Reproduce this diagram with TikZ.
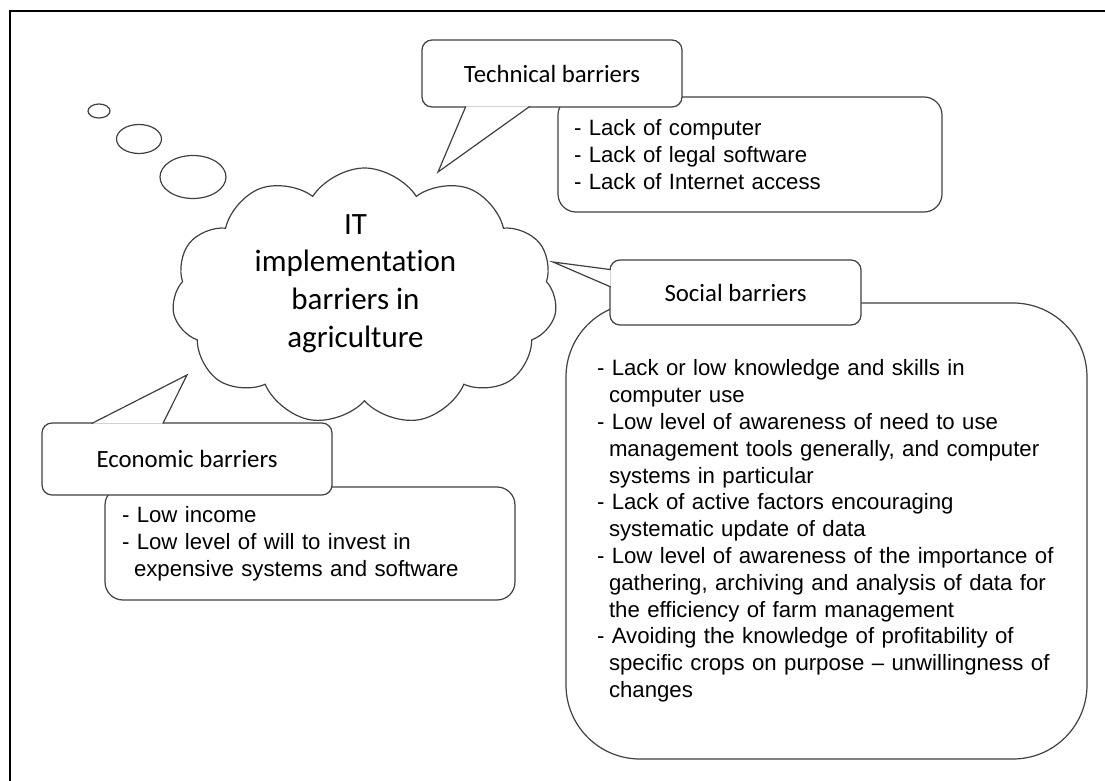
\documentclass[tikz,border=0pt]{standalone}
\usepackage{fontspec}
\setmainfont{Liberation Sans}
\newfontfamily\calibrifont[Ligatures=NoCommon]{Carlito}
\usetikzlibrary{shapes.geometric,shapes.symbols,calc}
\newcommand{\contline}{\hspace*{6pt}}

\begin{document}
\begin{tikzpicture}[
  x=0.5pt, y=-0.5pt,
  every node/.style={inner sep=0pt},
  outline/.style={draw=black!75, line width=0.6pt},
  bubble/.style={outline, ellipse},
  thought/.style={outline, cloud, cloud puffs=11, cloud puff arc=115,
    cloud ignores aspect, minimum width=192.5pt, minimum height=128.5pt},
  listbox/.style={outline, fill=white, rounded corners=9pt, align=left,
    font=\fontsize{11.1}{13.4}\selectfont},
  calloutbox/.style={outline, fill=white, rounded corners=5pt,
    font=\calibrifont\fontsize{12.4}{15}\selectfont},
  pointer/.style={outline, fill=white, line join=miter}
]
\useasboundingbox (0,0) rectangle (1105,781);
\draw[line width=0.85pt] (10,11) rectangle (1120,800);

% thought bubbles and cloud
\node[bubble, minimum width=11pt, minimum height=7pt] (bubbleA) at (99,111) {};
\node[bubble, minimum width=22.5pt, minimum height=14.5pt] (bubbleB) at (139,139) {};
\node[bubble, minimum width=33pt, minimum height=21.5pt] (bubbleC) at (193,177) {};
\node[thought] (cloud) at (364.5,296.5) {};
\node[align=center, font=\calibrifont\fontsize{15.5}{18.9}\selectfont] (topic)
  at (355.5,283.5) {IT\\implementation\\barriers in\\agriculture};

% lists of barriers
\node[listbox, text width=176pt, inner xsep=8pt, minimum height=57.5pt] (techlist)
  at (750,154.5) {- Lack of computer\\- Lack of legal software\\- Lack of Internet access};
\node[listbox, rounded corners=37pt, text width=229.5pt, inner xsep=15.5pt,
  minimum height=228pt] (sociallist) at (826.5,531)
  {- Lack or low knowledge and skills in\\\contline computer use\\
   - Low level of awareness of need to use\\\contline management tools generally, and computer\\
   \contline systems in particular\\
   - Lack of active factors encouraging\\\contline systematic update of data\\
   - Low level of awareness of the importance of\\\contline gathering, archiving and analysis of data for\\
   \contline the efficiency of farm management\\
   - Avoiding the knowledge of profitability of\\\contline specific crops on purpose -- unwillingness of\\
   \contline changes};
\node[listbox, text width=188pt, inner xsep=8.5pt, minimum height=56.5pt] (econlist)
  at (310,543.5) {- Low income\\- Low level of will to invest in\\\contline expensive systems and software};

% callouts
\node[calloutbox, minimum width=130pt, minimum height=33.5pt] (techcall) at (552,73.5) {Technical barriers};
\node[calloutbox, minimum width=125.5pt, minimum height=32.5pt] (socialcall) at (735.5,292.5) {Social barriers};
\node[calloutbox, minimum width=145pt, minimum height=36pt] (econcall) at (187,459) {Economic barriers};

\coordinate (techtip) at (438,172);
\coordinate (socialtip) at (553,262);
\coordinate (econtip) at (187,375);

\filldraw[pointer] ([yshift=0.6pt]$(techcall.south west)!0.17!(techcall.south east)$)
  -- (techtip) -- ([yshift=0.6pt]$(techcall.south west)!0.415!(techcall.south east)$);
\filldraw[pointer] ([xshift=0.6pt]$(socialcall.north west)!0.154!(socialcall.south west)$)
  -- (socialtip) -- ([xshift=0.6pt]$(socialcall.north west)!0.415!(socialcall.south west)$);
\filldraw[pointer] ([yshift=-0.6pt]$(econcall.north west)!0.172!(econcall.north east)$)
  -- (econtip) -- ([yshift=-0.6pt]$(econcall.north west)!0.417!(econcall.north east)$);
\end{tikzpicture}
\end{document}
